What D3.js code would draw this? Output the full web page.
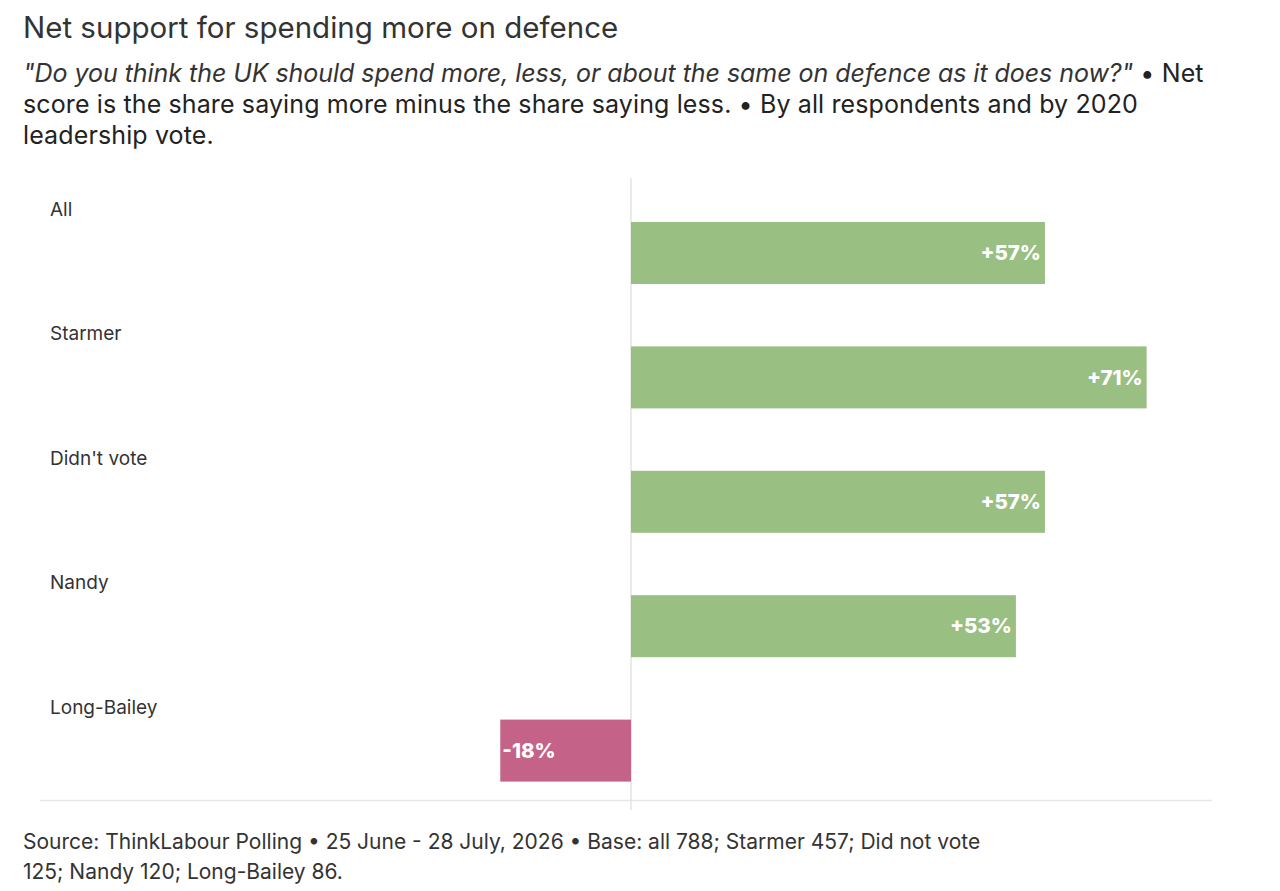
<!DOCTYPE html>
<html>
<head>
<meta charset="utf-8">
<script src="https://cdn.jsdelivr.net/npm/d3@7"></script>
<style>
  body { margin: 0; background: #fff; }
  svg { display: block; font-family: Inter, "Noto Sans", sans-serif; }
</style>
</head>
<body>
<div id="chart"></div>
<script>
var W = 1280, H = 891;

var groups = ['All', 'Starmer', "Didn't vote", 'Nandy', 'Long-Bailey'];
var netScores = [57, 71, 57, 53, -18];
var xTicks = [0];

var title = 'Net support for spending more on defence';
var subtitleLines = [
  [{t: '"Do you think the UK should spend more, less, or about the same on defence as it does now?"', i: true}, {t: ' \u2022 Net', i: false}],
  [{t: 'score is the share saying more minus the share saying less. \u2022 By all respondents and by 2020', i: false}],
  [{t: 'leadership vote.', i: false}]
];
var footLines = [
  'Source: ThinkLabour Polling \u2022 25 June - 28 July, 2026 \u2022 Base: all 788; Starmer 457; Did not vote',
  '125; Nandy 120; Long-Bailey 86.'
];

var svg = d3.select('#chart').append('svg')
  .attr('width', W)
  .attr('height', H);

// heading
svg.append('text')
  .attr('x', 23).attr('y', 38)
  .attr('font-size', 29.5)
  .attr('fill', '#333')
  .text(title);

var sub = svg.append('text')
  .attr('font-size', 25)
  .attr('letter-spacing', 0.05)
  .attr('fill', '#222');
subtitleLines.forEach(function(line, k) {
  line.forEach(function(part, j) {
    var ts = sub.append('tspan')
      .attr('font-style', part.i ? 'italic' : 'normal')
      .attr('fill', part.i ? '#333' : '#222')
      .attr('letter-spacing', part.i ? -0.05 : 0.12)
      .text(part.t);
    if (j === 0) ts.attr('x', 23).attr('y', 82 + k * 31);
  });
});

// plot
var x = d3.scaleLinear().domain([-80, 80]).range([50, 1212]);
var y = d3.scaleBand().domain(groups).range([178, 800]);

svg.append('clipPath').attr('id', 'plotclip')
  .append('rect').attr('x', 0).attr('y', 170).attr('width', W).attr('height', 646);

var axisG = svg.append('g')
  .attr('transform', 'translate(0,800)')
  .attr('clip-path', 'url(#plotclip)')
  .call(d3.axisBottom(x).tickValues(xTicks).tickSize(0).tickPadding(10).tickFormat(function(d) { return d + '%'; }));
axisG.select('.domain').remove();
axisG.selectAll('text').attr('font-size', 16).attr('fill', '#aaa').attr('font-family', 'Inter, sans-serif');

svg.append('line')
  .attr('x1', 40).attr('x2', 1212)
  .attr('y1', 800.5).attr('y2', 800.5)
  .attr('stroke', '#e6e6e6').attr('stroke-width', 1.5);

svg.append('line')
  .attr('x1', x(0)).attr('x2', x(0))
  .attr('y1', 178).attr('y2', 810)
  .attr('stroke', '#e3e3e3').attr('stroke-width', 1.5);

var rows = svg.selectAll('g.row')
  .data(groups)
  .enter().append('g')
  .attr('class', 'row')
  .attr('transform', function(d) { return 'translate(0,' + y(d) + ')'; });

rows.append('text')
  .attr('x', 50).attr('y', 38)
  .attr('font-size', 19)
  .attr('fill', '#333')
  .text(function(d) { return d; });

rows.append('rect')
  .attr('x', function(d, i) { return x(Math.min(0, netScores[i])); })
  .attr('y', 44)
  .attr('width', function(d, i) { return Math.abs(x(netScores[i]) - x(0)); })
  .attr('height', 62)
  .attr('fill', function(d, i) { return netScores[i] >= 0 ? '#9abf82' : '#c46387'; });

rows.append('text')
  .attr('x', function(d, i) { return netScores[i] >= 0 ? x(netScores[i]) - 4 : x(netScores[i]) + 2; })
  .attr('y', 75)
  .attr('dy', '0.35em')
  .attr('text-anchor', function(d, i) { return netScores[i] >= 0 ? 'end' : 'start'; })
  .attr('font-size', 20.5)
  .attr('font-weight', 800)
  .attr('fill', '#fff')
  .text(function(d, i) { return (netScores[i] > 0 ? '+' : '') + netScores[i] + '%'; });

// footer
footLines.forEach(function(l, k) {
  svg.append('text')
    .attr('x', 23).attr('y', 849 + k * 30)
    .attr('font-size', 21)
    .attr('fill', '#333')
    .text(l);
});
</script>
</body>
</html>
